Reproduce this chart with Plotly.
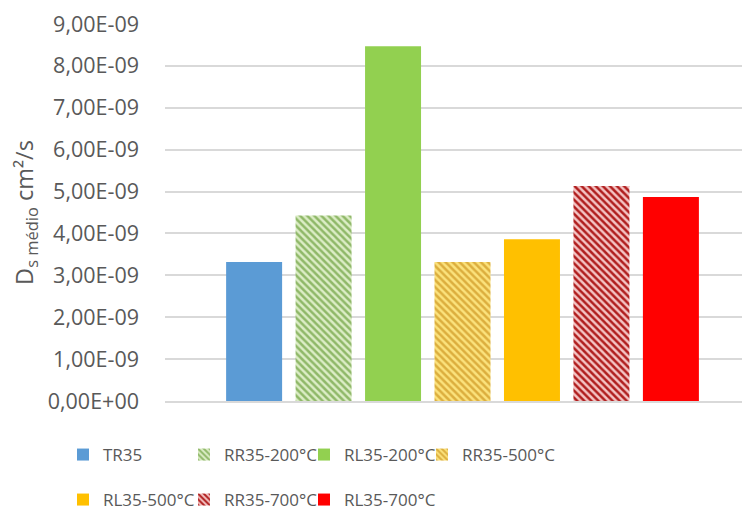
import plotly.graph_objects as go

series = ["TR35", "RR35-200°C", "RL35-200°C", "RR35-500°C", "RL35-500°C", "RR35-700°C", "RL35-700°C"]
values = [3.32e-9, 4.43e-9, 8.47e-9, 3.32e-9, 3.86e-9, 5.13e-9, 4.87e-9]
colors = ["#5b9bd5", "#dcedc6", "#92d050", "#fbe27c", "#ffc000", "#f4c4c4", "#ff0000"]
hatch = [None, "#8fb868", None, "#dcae3e", None, "#b01e1e", None]
tick_vals = [i * 1e-9 for i in range(10)]
tick_text = ["0,00E+00", "1,00E-09", "2,00E-09", "3,00E-09", "4,00E-09",
             "5,00E-09", "6,00E-09", "7,00E-09", "8,00E-09", "9,00E-09"]

# page body has an 8px default margin; layout numbers below compensate
leg_x = [55, 176, 296, 414, 55, 176, 296]
leg_y = [429, 429, 429, 429, 474, 474, 474]

fig = go.Figure()
legend_layout = {}
leg_font = dict(family="Open Sans, sans-serif", size=17, color="#595959")
for i, (name, v, c, h) in enumerate(zip(series, values, colors, hatch)):
    marker = dict(color=c, line=dict(width=0))
    if h:
        marker["pattern"] = dict(shape="\\", fgcolor=h, bgcolor=c, size=5, solidity=0.5, fillmode="replace")
    lname = "legend" if i == 0 else f"legend{i + 1}"
    fig.add_trace(go.Bar(x=[""], y=[v], name=name, marker=marker, legend=lname, showlegend=True))
    legend_layout[lname] = dict(orientation="h", xref="container", yref="container",
                                x=leg_x[i] / 750, xanchor="left",
                                y=1 - leg_y[i] / 510, yanchor="top",
                                font=leg_font, bgcolor="rgba(0,0,0,0)")

tick_font = dict(family="Open Sans, sans-serif", size=21.5, color="#595959")
fig.update_layout(
    width=750, height=510,
    showlegend=True,
    margin=dict(l=157, r=0, t=16, b=117, autoexpand=False),
    paper_bgcolor="white", plot_bgcolor="white",
    barmode="group", bargap=0.18, bargroupgap=0.194,
    font=leg_font,
    xaxis=dict(showticklabels=False, showgrid=False, zeroline=False,
               showline=True, linecolor="#d9d9d9", linewidth=2,
               range=[-0.5017, 0.4983]),
    yaxis=dict(range=[0, 9e-9], tickvals=tick_vals, ticktext=tick_text,
               tickfont=tick_font,
               showgrid=True, gridcolor="#d9d9d9", gridwidth=1.5,
               zeroline=False, ticklabelstandoff=25, automargin=False,
               title=dict(text="D<sub>s médio</sub> cm²/s",
                          font=dict(family="Open Sans, sans-serif", size=23.5, color="#595959"),
                          standoff=13)),
    **legend_layout,
)
fig.write_html("out.html")
